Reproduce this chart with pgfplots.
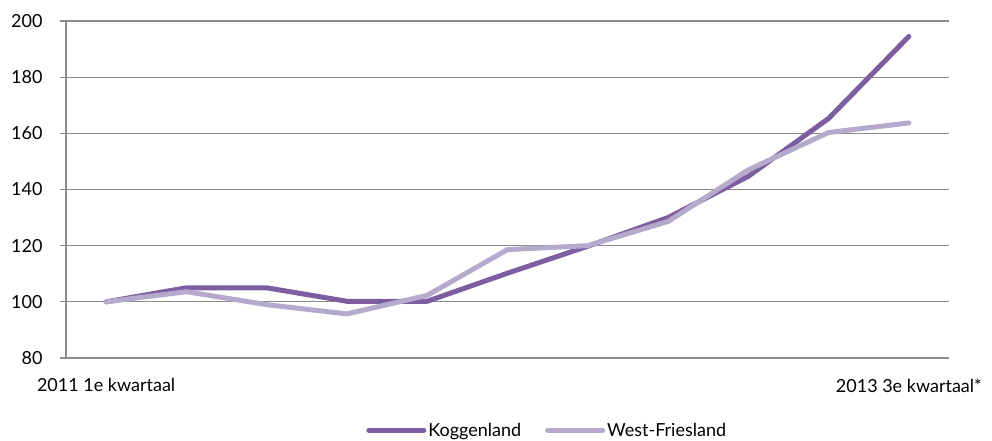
\documentclass[border=0pt]{standalone}
\usepackage{fontspec}
\setmainfont{Lato}
\usepackage{pgfplots}
\pgfplotsset{compat=1.18}
\definecolor{kog}{RGB}{124,94,161}
\definecolor{wf}{RGB}{182,170,204}
\definecolor{gridc}{RGB}{140,140,140}
\begin{document}
\begin{tikzpicture}[x=1pt,y=1pt]
\useasboundingbox (-66,-83) rectangle (926,358);
\begin{axis}[
  at={(0,0)}, anchor=south west,
  scale only axis, width=883pt, height=337pt,
  xmin=-0.5, xmax=10.5, ymin=80, ymax=200,
  axis x line*=bottom, axis y line*=left,
  axis line style={gridc, line width=1.2pt, -},
  ytick={80,100,...,200},
  ymajorgrids, grid style={gridc, line width=1.2pt},
  y tick style={gridc, line width=1.2pt},
  tick align=outside, major tick length=6pt,
  xtick={0,10},
  xticklabels={2011 1e kwartaal, 2013 3e kwartaal*},
  x tick style={draw=none},
  extra x ticks={-0.5,0.5,1.5,2.5,3.5,4.5,5.5,6.5,7.5,8.5,9.5,10.5},
  extra x tick labels={},
  extra x tick style={grid=none, tick style={gridc, line width=1.2pt, draw=gridc}},
  tick label style={font=\fontsize{18}{21}\selectfont},
  /pgf/number format/assume math mode=true,
  xticklabel style={yshift=-11pt},
  yticklabel style={xshift=-14pt},
  legend columns=2,
  legend style={draw=none, at={(0.545,-0.214)}, anchor=center,
    font=\fontsize{18}{21}\selectfont,
    /tikz/every even column/.append style={column sep=22pt}},
  legend image code/.code={\draw[#1, line cap=round] (0pt,0pt) -- (55pt,0pt);},
]
\addplot[kog, line width=5pt, line join=round, line cap=round] coordinates {
  (0,100) (1,105) (2,105) (3,100.2) (4,100.2) (5,110.2) (6,119.8) (7,130) (8,144.7) (9,165.3) (10,194.5)
};
\addlegendentry{Koggenland}
\addplot[wf, line width=5pt, line join=round, line cap=round] coordinates {
  (0,100) (1,103.6) (2,99) (3,95.7) (4,102.3) (5,118.6) (6,120) (7,128.6) (8,147) (9,160.3) (10,163.7)
};
\addlegendentry{West-Friesland}
\end{axis}
\end{tikzpicture}
\end{document}
